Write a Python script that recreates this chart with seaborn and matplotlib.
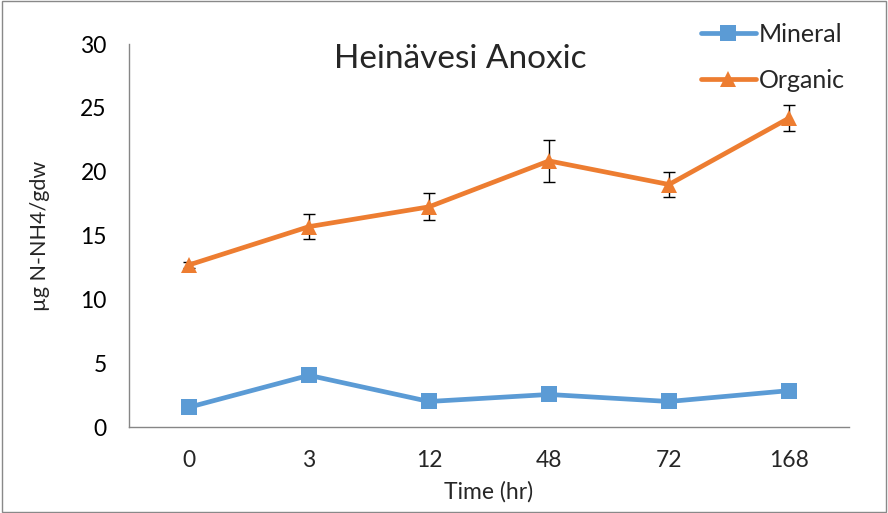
import matplotlib
matplotlib.use("Agg")
import matplotlib.pyplot as plt
import seaborn as sns
import pandas as pd
import numpy as np
from matplotlib.lines import Line2D

times = ["0", "3", "12", "48", "72", "168"]
mineral = [1.55, 4.05, 2.0, 2.55, 2.0, 2.85]
organic = [12.7, 15.7, 17.25, 20.85, 19.0, 24.2]
organic_err = [0.25, 1.0, 1.05, 1.65, 1.0, 1.0]
mineral_err = [0.2, 0.3, 0.2, 0.2, 0.2, 0.3]

sns.set_style("white")
plt.rcParams['font.family'] = ['Lato', 'DejaVu Sans']

df = pd.DataFrame({
    "pos": list(range(len(times))) * 2,
    "value": mineral + organic,
    "series": ["Mineral"] * len(times) + ["Organic"] * len(times),
})

fig = plt.figure(figsize=(8.88, 5.13), dpi=100)
ax = fig.add_axes([0.1453, 0.1676, 0.8107, 0.7464])

pos = np.arange(len(times))
ax.errorbar(pos, organic, yerr=organic_err, fmt="none", ecolor="black",
            elinewidth=1, capsize=4, capthick=1, zorder=1)
ax.errorbar(pos, mineral, yerr=mineral_err, fmt="none", ecolor="black",
            elinewidth=1, capsize=4, capthick=1, zorder=1)

palette = {"Mineral": "#5B9BD5", "Organic": "#ED7D31"}
sns.lineplot(data=df, x="pos", y="value", hue="series", style="series",
             markers={"Mineral": "s", "Organic": "^"}, dashes=False,
             palette=palette, linewidth=3.4, markersize=12,
             markeredgewidth=0, ax=ax, legend=False, zorder=3)

ax.set_xlim(-0.5, len(times) - 0.5)
ax.set_ylim(0, 30)
ax.set_yticks(range(0, 31, 5))
ax.set_xticks(pos)
ax.set_xticklabels(times)
ax.set_xticks(np.arange(-0.5, len(times), 1), minor=True)
ax.tick_params(axis="x", which="major", bottom=False, labelsize=16.5, pad=13)
ax.tick_params(axis="x", which="minor", length=6, color="#868686", width=1, direction="out")
ax.tick_params(axis="y", length=6, color="#868686", width=1, direction="out",
               labelsize=16.5, pad=10, labelcolor="black")

for s in ["top", "right"]:
    ax.spines[s].set_visible(False)
for s in ["left", "bottom"]:
    ax.spines[s].set_color("#868686")
    ax.spines[s].set_linewidth(1)

ax.set_xlabel("Time (hr)", fontsize=16.5, labelpad=7)
ax.set_ylabel("µg N-NH4/gdw", fontsize=15.5, labelpad=22)
ax.set_title("Heinävesi Anoxic", fontsize=24, y=0.915, x=0.46)

handles = [
    Line2D([0], [0], color="#5B9BD5", marker="s", lw=3.4, markersize=12, markeredgewidth=0),
    Line2D([0], [0], color="#ED7D31", marker="^", lw=3.4, markersize=12, markeredgewidth=0),
]
fig.legend(handles, ["Mineral", "Organic"], loc="upper left",
           bbox_to_anchor=(0.764, 1.0), frameon=False, fontsize=18,
           handlelength=2.2, handletextpad=0.12, labelspacing=0.92)

fig.patches.append(plt.Rectangle((0.002, 0.002), 0.996, 0.996, transform=fig.transFigure,
                                 fill=False, edgecolor="#898989", linewidth=1))

fig.savefig("out.png", dpi=100)
